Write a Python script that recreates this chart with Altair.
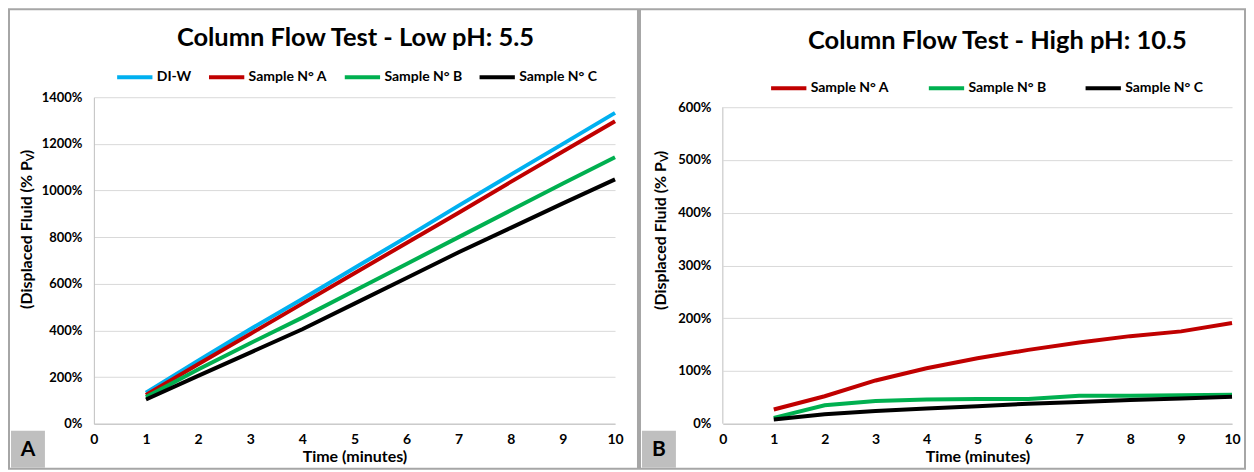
import altair as alt
import pandas as pd

# ---------------- data ----------------
minutes = [1, 2, 3, 4, 5, 6, 7, 8, 9, 10]

low_series = ["DI-W", "Sample N° A", "Sample N° B", "Sample N° C"]
low_colors = ["#00b0f0", "#c00000", "#00b050", "#000000"]
low_diw = [133, 270, 405, 535, 668, 800, 935, 1068, 1200, 1333]
low_a = [123, 255, 385, 515, 645, 775, 905, 1037, 1167, 1297]
low_b = [114, 232, 345, 455, 570, 685, 800, 915, 1030, 1143]
low_c = [104, 205, 305, 405, 515, 625, 735, 840, 945, 1048]

high_series = ["Sample N° A", "Sample N° B", "Sample N° C"]
high_colors = ["#c00000", "#00b050", "#000000"]
high_a = [27, 52, 82, 105, 124, 140, 154, 166, 175, 191]
high_b = [11, 35, 43, 46, 47, 47, 53, 53, 54, 55]
high_c = [8, 18, 24, 29, 33, 38, 41, 45, 48, 51]

x_ticks = [0, 1, 2, 3, 4, 5, 6, 7, 8, 9, 10]
low_ticks = [0, 200, 400, 600, 800, 1000, 1200, 1400]
high_ticks = [0, 100, 200, 300, 400, 500, 600]

low_title = "Column Flow Test - Low pH: 5.5"
high_title = "Column Flow Test - High pH: 10.5"
y_title_main = "(Displaced Fluid (% P"
y_title_sub = "V"
y_title_end = ")"
x_title = "Time (minutes)"


def long_df(series, values):
    rows = []
    for s, vals in zip(series, values):
        for i, (m, v) in enumerate(zip(minutes, vals)):
            rows.append({"series": s, "minute": m, "pct": v, "order": i})
    return pd.DataFrame(rows)


low_df = long_df(low_series, [low_diw, low_a, low_b, low_c])
high_df = long_df(high_series, [high_a, high_b, high_c])

FONT = "Lato"
GRID = "#d9d9d9"
AXIS = "#bfbfbf"
FRAME = "#a6a6a6"
W_L, W_R, H = 522, 510, 327
dummy = alt.Data(values=[{"k": 1}])


def txt(x, y, text, size, align="center", angle=0, dy=0):
    return alt.Chart(dummy).mark_text(font=FONT, fontSize=size, fontWeight="bold",
                                      color="#000000", align=align, baseline="middle",
                                      angle=angle, dy=dy).encode(
        x=alt.value(x), y=alt.value(y), text=alt.value(text))


def panel(df, series, colors, width, ydom, yticks, ydomain_line, title, tx, ty,
          lx, ly, colpad, ytx, yty, letter, fx1, fx2):
    x = alt.X("minute:Q", scale=alt.Scale(domain=[0, 10], nice=False),
              axis=alt.Axis(values=x_ticks, grid=False, ticks=False, domainColor=AXIS,
                            labelPadding=9, labelFontSize=14, labelFontWeight="bold",
                            labelColor="#000000", labelFlush=False, labelOverlap=False,
                            title=x_title, titleFontSize=16, titleFontWeight="bold",
                            titleColor="#000000", titlePadding=2))
    y = alt.Y("pct:Q", scale=alt.Scale(domain=ydom, nice=False, zero=True),
              axis=alt.Axis(values=yticks, grid=True, gridColor=GRID, ticks=False,
                            domain=ydomain_line, domainColor=AXIS,
                            labelPadding=12, labelFontSize=13, labelFontWeight="bold",
                            labelColor="#000000", labelFlush=False, labelOverlap=False,
                            labelExpr="datum.value + '%'", title=None))
    lines = alt.Chart(df).mark_line(strokeWidth=4).encode(
        x=x, y=y,
        color=alt.Color("series:N", scale=alt.Scale(domain=series, range=colors),
                        legend=alt.Legend(orient="none", legendX=lx, legendY=ly,
                                          direction="horizontal", symbolType="stroke",
                                          symbolStrokeWidth=4, symbolSize=1250,
                                          labelFontSize=14, labelFontWeight="bold",
                                          labelColor="#000000", labelOffset=2,
                                          columnPadding=colpad, labelLimit=300,
                                          title=None)),
        order="order:Q",
    )
    layers = []
    if not ydomain_line:
        dl = pd.DataFrame({"minute": [0], "pct": [0], "pct2": [yticks[-1]]})
        layers.append(alt.Chart(dl).mark_rule(color=AXIS, strokeWidth=1).encode(
            x="minute:Q", y="pct:Q", y2="pct2:Q"))
    layers.append(lines)
    frame = alt.Chart(dummy).mark_rect(fill="transparent", stroke=FRAME, strokeWidth=2).encode(
        x=alt.value(fx1), x2=alt.value(fx2), y=alt.value(-88), y2=alt.value(372))
    box = alt.Chart(dummy).mark_rect(fill="#bfbfbf").encode(
        x=alt.value(fx1 + 2), x2=alt.value(fx1 + 36), y=alt.value(334), y2=alt.value(371))
    layers += [
        frame, box,
        txt(fx1 + 19, 353, letter, 21),
        txt(tx, ty, title, 25.5),
        txt(ytx, yty, y_title_main, 16, align="right", angle=270),
        txt(ytx, yty, y_title_sub, 11, align="left", angle=270, dy=4),
        txt(ytx, yty - 7, y_title_end, 16, align="left", angle=270),
    ]
    return alt.layer(*layers).properties(width=width, height=H)


left = panel(low_df, low_series, low_colors, W_L, [0, 1400], low_ticks, True,
             low_title, 262, -59, 21, -40, 9, -67, 64, "A", -85, 545)
right = panel(high_df, high_series, high_colors, W_R, [0, 600 * 327 / 317], high_ticks, False,
              high_title, 275, -56, 46, -29, 31, -62, 65, "B", -83, 523)

chart = alt.hconcat(left, right, spacing=108, bounds="flush").resolve_scale(
    color="independent", x="independent", y="independent"
).properties(padding=0).configure(font=FONT, background="white").configure_view(strokeWidth=0)

chart.save("out.html", embed_options={"renderer": "svg", "actions": False})
